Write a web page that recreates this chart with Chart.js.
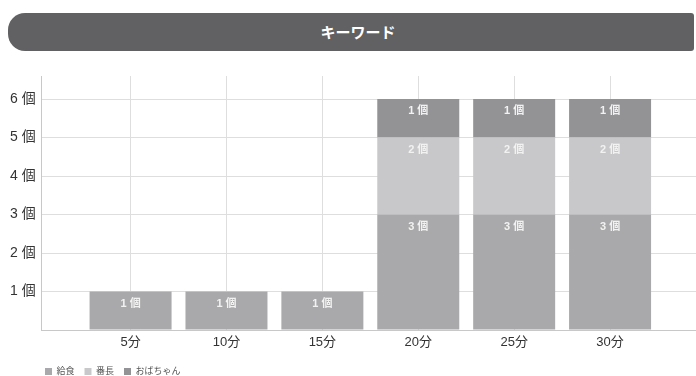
<!DOCTYPE html>
<html><head><meta charset="utf-8">
<script src="https://cdn.jsdelivr.net/npm/chart.js@4"></script>
<style>
html,body{margin:0;padding:0;background:#fff;width:696px;height:376px;overflow:hidden;}
#title{position:absolute;left:8px;top:13px;width:686px;height:38px;background:#616163;border-radius:17px 3px 3px 17px;color:#fff;font:bold 15px 'Noto Sans CJK JP',sans-serif;line-height:38px;text-align:center;text-indent:14px;}
#c{position:absolute;left:0;top:0;}
</style></head>
<body>
<div id="title">キーワード</div>
<canvas id="c" width="696" height="386"></canvas>
<script>
const categories = ['5分','10分','15分','20分','25分','30分'];
const seriesNames = ['給食','番長','おばちゃん'];
const kyushoku = [1,1,1,3,3,3];
const bancho   = [0,0,0,2,2,2];
const obachan  = [0,0,0,1,1,1];
const unit = '個';

const FONT = '"Liberation Sans","Noto Sans CJK JP",sans-serif';
const toPts = arr => arr.map((v,i)=>({x:i,y:v}));
const barOpts = {categoryPercentage:1, barPercentage:0.855, borderWidth:0};

const segLabels = {
  id:'segLabels',
  afterLayout(chart){
    const lg = chart.legend;
    if (lg) { const w = lg.right - lg.left; lg.left = 35; lg.right = 35 + w; }
  },
  afterDatasetsDraw(chart){
    const ctx = chart.ctx;
    ctx.save();
    ctx.font = '600 11px ' + FONT;
    ctx.fillStyle = '#f2f2f2';
    ctx.textAlign = 'center';
    ctx.textBaseline = 'middle';
    chart.data.datasets.forEach((ds,di)=>{
      const meta = chart.getDatasetMeta(di);
      meta.data.forEach((bar,i)=>{
        const v = ds.data[i].y;
        if(!v) return;
        ctx.fillText(v + ' ' + unit, bar.x, bar.y + 12);
      });
    });
    ctx.restore();
  }
};

new Chart(document.getElementById('c'), {
  type:'bar',
  data:{
    datasets:[
      Object.assign({label:seriesNames[0], data:toPts(kyushoku), backgroundColor:'#a9a9ab'}, barOpts),
      Object.assign({label:seriesNames[1], data:toPts(bancho), backgroundColor:'#c8c8ca'}, barOpts),
      Object.assign({label:seriesNames[2], data:toPts(obachan), backgroundColor:'#939396'}, barOpts)
    ]
  },
  options:{
    responsive:false,
    animation:false,
    devicePixelRatio:1,
    layout:{padding:{top:76,left:4,right:0,bottom:0}},
    plugins:{
      tooltip:{enabled:false},
      legend:{
        position:'bottom', align:'start',
        labels:{boxWidth:7, boxHeight:7, padding:10, color:'#555', font:{size:9, family:FONT}}
      }
    },
    scales:{
      x:{
        type:'linear', stacked:true, bounds:'data', offset:false,
        min:-0.927, max:5.896,
        grid:{color:'#dedede', drawTicks:false, offset:false},
        border:{color:'#c8c8c8'},
        ticks:{padding:5, color:'#333', font:{size:13, family:FONT}, autoSkip:false, maxRotation:0,
          callback:v=> categories[v] !== undefined ? categories[v] : ''},
        afterBuildTicks:s=>{ s.ticks = categories.map((_,i)=>({value:i})); },
        afterFit:s=>{ s.height = 27; }
      },
      y:{
        stacked:true, bounds:'data', min:0, max:6.6,
        grid:{color:'#dedede', drawTicks:false},
        border:{color:'#c8c8c8'},
        ticks:{stepSize:1, includeBounds:false, padding:6, color:'#333', font:{size:14, family:FONT},
          callback:v=> v===0 ? '' : v + ' ' + unit}
      }
    }
  },
  plugins:[segLabels]
});
</script>
</body></html>
